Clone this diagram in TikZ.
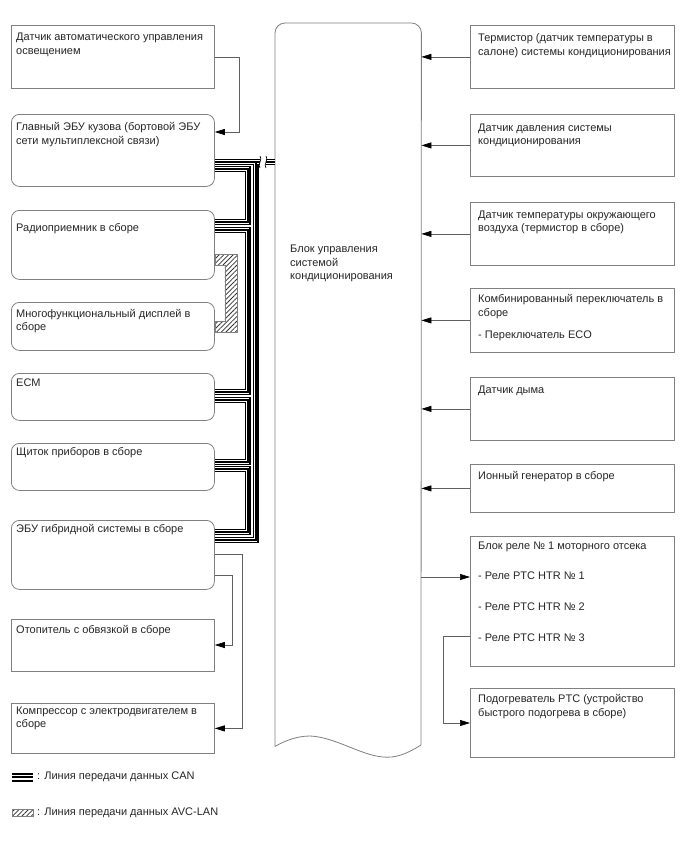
\documentclass[tikz,border=0pt]{standalone}
\usepackage{fontspec}
\setmainfont{Liberation Sans}
\usetikzlibrary{arrows.meta,patterns.meta}

\definecolor{boxc}{RGB}{128,128,128}
\definecolor{lnc}{RGB}{96,96,96}

\tikzset{
  lbox/.style={draw=boxc, line width=0.8pt, anchor=north west, inner sep=0pt,
    minimum width=203pt, minimum height=#1},
  rbox/.style={lbox=#1, minimum width=204pt},
  rnd/.style={rounded corners=8pt},
  txt/.style={align=left, inner sep=0pt, font=\fontsize{11}{13.6}\selectfont, text=black!85},
  ltxt/.style={txt, anchor=north west, xshift=5pt, yshift=-#1},
  rtxt/.style={txt, anchor=north west, xshift=8pt, yshift=-#1},
  conn/.style={draw=lnc, line width=0.7pt, -{Triangle[length=10pt,width=6pt,color=black]}},
  brk/.style={draw=black, line width=0.7pt},
  hatch/.style={draw=boxc, line width=0.6pt, pattern={Lines[angle=45,distance=3.3pt,line width=0.8pt]}, pattern color=black!80},
}

\begin{document}
\begin{tikzpicture}[x=1pt,y=-1pt]
\fill[white] (0,0) rectangle (688,852);
\useasboundingbox (0,0) rectangle (688,852);

% left column
\node[lbox=63, label={[ltxt=8pt]north west:{Датчик автоматического управления\\освещением}}] (sens) at (11,25) {};
\node[lbox=72, rnd, label={[ltxt=8.5pt]north west:{Главный ЭБУ кузова (бортовой ЭБУ\\сети мультиплексной связи)}}] (glav) at (11,114) {};
\node[lbox=69, rnd, label={[ltxt=13.5pt]north west:{Радиоприемник в сборе}}] (radio) at (11,210) {};
\node[lbox=48, rnd, label={[ltxt=7pt]north west:{Многофункциональный дисплей в\\сборе}}] (multi) at (11,302) {};
\node[lbox=47, rnd, label={[ltxt=5.5pt]north west:{ECM}}] (ecm) at (11,373) {};
\node[lbox=47, rnd, label={[ltxt=4.5pt]north west:{Щиток приборов в сборе}}] (shch) at (11,443) {};
\node[lbox=69, rnd, label={[ltxt=4.5pt]north west:{ЭБУ гибридной системы в сборе}}] (ebu) at (11,520) {};
\node[lbox=52, label={[ltxt=6.5pt]north west:{Отопитель с обвязкой в сборе}}] (heat) at (11,619) {};
\node[lbox=50, label={[ltxt=3.5pt]north west:{Компрессор с электродвигателем в\\сборе}}] (comp) at (11,703) {};

% A/C amplifier
\node[anchor=north west, inner sep=0pt, minimum width=146pt, minimum height=723pt] (ac) at (275,23) {};
\draw[draw=boxc, line width=0.8pt] (ac.south west) [rounded corners=10pt] -- (ac.north west) -- (ac.north east)
  [sharp corners] -- (421,745) .. controls (405,755) and (395,758) .. (383,757)
  .. controls (360,755) and (335,737) .. (310,736) .. controls (295,736) and (283,742) .. (ac.south west);
\node[txt, anchor=north west] (actxt) at (290,245) {Блок управления\\системой\\кондиционирования};

% right column
\node[rbox=63, label={[rtxt=8.5pt]north west:{Термистор (датчик температуры в\\салоне) системы кондиционирования}}] (therm) at (470,25) {};
\node[rbox=62, label={[rtxt=9.5pt]north west:{Датчик давления системы\\кондиционирования}}] (press) at (470,114) {};
\node[rbox=63, label={[rtxt=8.5pt]north west:{Датчик температуры окружающего\\воздуха (термистор в сборе)}}] (amb) at (470,202) {};
\node[rbox=64, label={[rtxt=6.5pt]north west:{Комбинированный переключатель в\\сборе\\[8pt]- Переключатель ECO}}] (comb) at (470,288) {};
\node[rbox=63, label={[rtxt=8.5pt]north west:{Датчик дыма}}] (smoke) at (470,377) {};
\node[rbox=48, label={[rtxt=7.5pt]north west:{Ионный генератор в сборе}}] (ion) at (470,464) {};
\node[rbox=130, label={[rtxt=5.5pt]north west:{Блок реле № 1 моторного отсека\\[17pt]- Реле PTC HTR № 1\\[17pt]- Реле PTC HTR № 2\\[17pt]- Реле PTC HTR № 3}}] (relay) at (470,536) {};
\node[rbox=69, label={[rtxt=6.5pt]north west:{Подогреватель PTC (устройство\\быстрого подогрева в сборе)}}] (ptc) at (470,688) {};

% signal lines
\draw[conn] (sens.east) -- ++(25,0) |- ([yshift=-18pt]glav.north east);
\draw[conn] ([yshift=-34pt]ebu.north east) -- ++(28,0) |- (comp.east);
\draw[conn] ([yshift=-55pt]ebu.north east) -- ++(18,0) |- ([yshift=-26pt]heat.north east);
\foreach \n in {therm,press,amb,comb,smoke,ion}
  \draw[conn] (\n.west) -- (\n.west -| ac.east);
\coordinate (rin) at ([yshift=-41pt]relay.north west);
\draw[conn] (rin -| ac.east) -- (rin);
\draw[conn] ([yshift=-100pt]relay.north west) -- ++(-27,0) |- ([yshift=-35pt]ptc.north west);

% AVC-LAN
\draw[hatch] ([yshift=-44pt]radio.north east) -- ++(22,0) -- ++(0,78) -- ++(-22,0) -- ++(0,-11)
  -- ++(10,0) -- ++(0,-56) -- ++(-10,0) -- cycle;

% CAN
\coordinate (m0) at ([yshift=-48pt]glav.north east);
\coordinate (m1) at (m0 -| ac.west);
\foreach \w/\c in {6.6pt/black,3.2pt/white,1.6pt/black}{
  \draw[line width=\w, draw=\c] (m0) -- (m1);
  \draw[line width=\w, draw=\c] ([yshift=-55pt]glav.north east) -- ++(33,0) |- ([yshift=-12pt]radio.north east);
  \draw[line width=\w, draw=\c] ([yshift=-20pt]radio.north east) -- ++(33,0) |- ([yshift=-19pt]ecm.north east);
  \draw[line width=\w, draw=\c] ([yshift=-27pt]ecm.north east) -- ++(33,0) |- ([yshift=-19pt]shch.north east);
  \draw[line width=\w, draw=\c] ([yshift=-26pt]shch.north east) -- ++(33,0) |- ([yshift=-12pt]ebu.north east);
  \draw[line width=\w, draw=\c] ([yshift=-20pt]ebu.north east) -- ++(41,0) |- (m0);
}
\fill[white] ([xshift=-15pt,yshift=6pt]m1) rectangle ([xshift=-9pt,yshift=-6pt]m1);
\draw[brk] ([xshift=-15pt,yshift=6pt]m1) .. controls +(3,3) and +(-3,-3) .. +(0,12);
\draw[brk] ([xshift=-9pt,yshift=6pt]m1) .. controls +(3,3) and +(-3,-3) .. +(0,12);

% legend
\node[txt, anchor=west] (canl) at (37,777) {: Линия передачи данных CAN};
\node[txt, anchor=west] (avcl) at (37,813) {: Линия передачи данных AVC-LAN};
\foreach \dy in {-3.5,0,3.5}
  \draw[line width=2pt] ([xshift=-25pt,yshift=\dy pt]canl.west) -- ++(21,0);
\draw[hatch] ([xshift=-25pt,yshift=3.5pt]avcl.west) rectangle ++(21,7);
\end{tikzpicture}
\end{document}
